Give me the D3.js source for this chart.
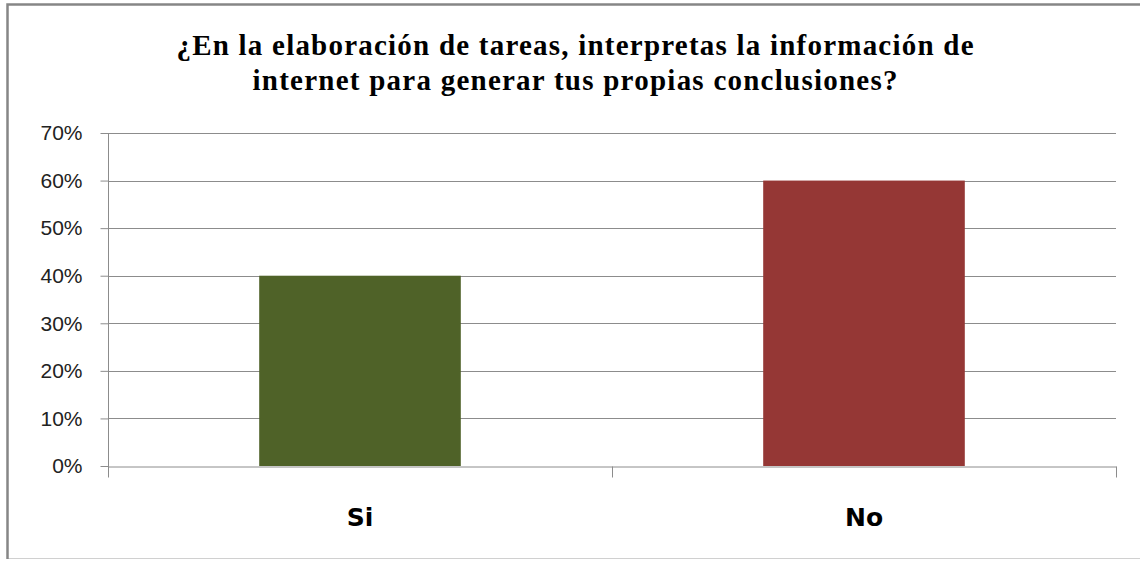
<!DOCTYPE html>
<html>
<head>
<meta charset="utf-8">
<script src="https://cdn.jsdelivr.net/npm/d3@7"></script>
<style>
  body { margin: 0; background: #fff; }
  .title { font-family: "Liberation Serif", "DejaVu Serif", serif; font-weight: bold; }
</style>
</head>
<body>
<div id="chart"></div>
<script>
// chart data
var categories = ["Si", "No"];
var values = [0.40, 0.60];
var colors = ["#4F6228", "#953735"];
var yTicks = [0, 0.1, 0.2, 0.3, 0.4, 0.5, 0.6, 0.7];
var titleLines = ["¿En la elaboración de tareas, interpretas la información de",
                  "internet para generar tus propias conclusiones?"];
var titleWidths = [797, 645];   // measured line widths of the title in the original

var W = 1140, H = 561;
var margin = { top: 133, right: 24, bottom: 95, left: 108 };   // plot area 108..1116, 133..466
var width = W - margin.left - margin.right,
    height = H - margin.top - margin.bottom;

var svg = d3.select("#chart").append("svg")
    .attr("width", W)
    .attr("height", H);

// outer frame (right edge runs off the picture)
svg.append("rect")
    .attr("x", 7.5).attr("y", 4.5)
    .attr("width", 1160).attr("height", 554)
    .attr("fill", "#fff")
    .attr("stroke", "#d0d0d0")
    .attr("stroke-width", 1);
svg.append("path")
    .attr("d", "M7.5,559V4.5H1141")
    .attr("fill", "none")
    .attr("stroke", "#868686")
    .attr("stroke-width", 2.5);

// title, one text per line so each can be stretched to the original width
svg.append("g")
    .attr("class", "title")
    .attr("font-size", 29)
    .selectAll("text")
    .data(titleLines)
    .enter().append("text")
    .attr("x", 575)
    .attr("y", function (d, i) { return 55 + i * 35; })
    .attr("text-anchor", "middle")
    .attr("textLength", function (d, i) { return titleWidths[i]; })
    .attr("lengthAdjust", "spacing")
    .text(function (d) { return d; });

var g = svg.append("g")
    .attr("transform", "translate(" + margin.left + "," + margin.top + ")");

var x = d3.scaleBand()
    .domain(categories)
    .range([0, width])
    .padding(0);

var y = d3.scaleLinear()
    .domain([0, 0.7])
    .range([height, 0]);

// gridlines
g.append("g")
    .selectAll("line")
    .data(yTicks.slice(1))
    .enter().append("line")
    .attr("x1", 0).attr("x2", width)
    .attr("y1", function (d) { return Math.round(y(d)) + 0.5; })
    .attr("y2", function (d) { return Math.round(y(d)) + 0.5; })
    .attr("stroke", "#8c8c8c")
    .attr("stroke-width", 1);

// bars
var barW = x.bandwidth() * 0.4;
g.selectAll("rect.bar")
    .data(values)
    .enter().append("rect")
    .attr("class", "bar")
    .attr("x", function (d, i) { return x(categories[i]) + (x.bandwidth() - barW) / 2; })
    .attr("y", function (d) { return y(d); })
    .attr("width", barW)
    .attr("height", function (d) { return height - y(d); })
    .attr("fill", function (d, i) { return colors[i]; });

// y axis
var yaxis = d3.axisLeft(y)
    .tickValues(yTicks)
    .tickSize(8)
    .tickPadding(18)
    .tickFormat(d3.format(".0%"));

var gy = g.append("g")
    .attr("transform", "translate(0.5,0)")
    .call(yaxis);
gy.attr("font-family", "'Liberation Sans', Arial, sans-serif").attr("font-size", 21);
gy.select(".domain").attr("stroke", "#8c8c8c").attr("d", "M0,0V" + (height + 11));
gy.selectAll(".tick line").attr("stroke", "#8c8c8c");
gy.selectAll(".tick text").attr("fill", "#222");

// x axis
var xaxis = d3.axisBottom(x)
    .tickSize(0)
    .tickPadding(40)
    .tickSizeOuter(0);

var gx = g.append("g")
    .attr("transform", "translate(0," + (height + 0.5) + ")")
    .call(xaxis);
gx.attr("font-family", "'DejaVu Sans', Verdana, sans-serif").attr("font-size", 25).attr("font-weight", "bold");
gx.select(".domain").attr("stroke", "#8c8c8c");
gx.selectAll(".tick text").attr("fill", "#000").attr("dy", 0).attr("y", 59);

// category separator ticks
gx.append("g")
    .selectAll("line")
    .data([0, 1, 2])
    .enter().append("line")
    .attr("x1", function (d) { return Math.round(d * x.bandwidth()) + 0.5; })
    .attr("x2", function (d) { return Math.round(d * x.bandwidth()) + 0.5; })
    .attr("y1", 0).attr("y2", 11)
    .attr("stroke", "#8c8c8c");
</script>
</body>
</html>
